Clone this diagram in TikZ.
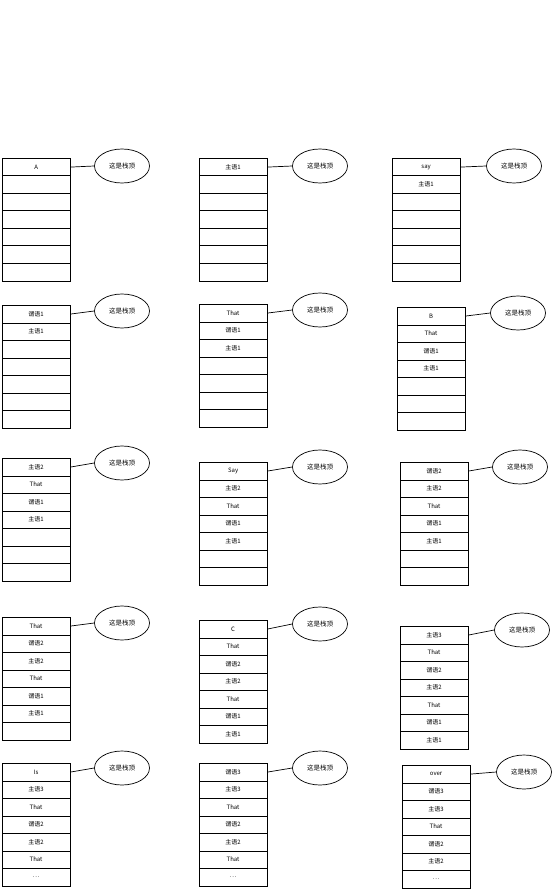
\documentclass[tikz,border=0pt]{standalone}
\usepackage{fontspec}
\newfontfamily\cjk{Noto Sans CJK SC}
\usetikzlibrary{shapes.geometric}

% one stack: name, x, y of top left corner, cell texts (top first)
\newcommand{\stackcol}[4]{%
  \foreach \txt [count=\i] in {#4} {
    \node[cell] (#1-\i) at (#2, #3+17.5*\i-17.5) {\txt};
  }
}
% the label of the top of a stack
\newcommand{\stacktop}[3]{%
  \node[toplbl] (#1-top) at (#2, #3) {这是栈顶};
  \draw[link] (#1-1.east) -- (#1-top.west);
}
\newcommand{\moredots}{.\,.\,.}

\begin{document}
\begin{tikzpicture}[x=1pt, y=-1pt, font=\cjk]
    \tikzset{
      cell/.style={draw, line width=0.7pt, anchor=north west, minimum width=67.5pt,
                   minimum height=17.5pt, inner sep=0pt, font=\cjk\fontsize{6}{6}\selectfont},
      toplbl/.style={draw, ellipse, line width=0.7pt, minimum width=55pt, minimum height=34pt,
                     inner sep=0pt, font=\cjk\fontsize{6.5}{6.5}\selectfont},
      link/.style={line width=0.7pt},
    }
    \useasboundingbox (0,0) rectangle (553,890);

    % row 1
    \stackcol{r1a}{2}{158}{A,{},{},{},{},{},{}}
    \stacktop{r1a}{122}{166}
    \stackcol{r1b}{199}{158}{主语1,{},{},{},{},{},{}}
    \stacktop{r1b}{320}{166}
    \stackcol{r1c}{392}{158}{say,主语1,{},{},{},{},{}}
    \stacktop{r1c}{514}{166}

    % row 2
    \stackcol{r2a}{2}{305}{谓语1,主语1,{},{},{},{},{}}
    \stacktop{r2a}{122}{311}
    \stackcol{r2b}{199}{304}{That,谓语1,主语1,{},{},{},{}}
    \stacktop{r2b}{320}{310}
    \stackcol{r2c}{397}{307}{B,That,谓语1,主语1,{},{},{}}
    \stacktop{r2c}{518}{313}

    % row 3
    \stackcol{r3a}{2}{458}{主语2,That,谓语1,主语1,{},{},{}}
    \stacktop{r3a}{122}{463}
    \stackcol{r3b}{199}{462}{Say,主语2,That,谓语1,主语1,{},{}}
    \stacktop{r3b}{320}{467}
    \stackcol{r3c}{400}{462}{谓语2,主语2,That,谓语1,主语1,{},{}}
    \stacktop{r3c}{520}{467}

    % row 4
    \stackcol{r4a}{2}{617}{That,谓语2,主语2,That,谓语1,主语1,{}}
    \stacktop{r4a}{122}{623}
    \stackcol{r4b}{199}{620}{C,That,谓语2,主语2,That,谓语1,主语1}
    \stacktop{r4b}{320}{624}
    \stackcol{r4c}{400}{626}{主语3,That,谓语2,主语2,That,谓语1,主语1}
    \stacktop{r4c}{522}{630}

    % row 5
    \stackcol{r5a}{2}{763}{Is,主语3,That,谓语2,主语2,That,\moredots}
    \stacktop{r5a}{122}{768}
    \stackcol{r5b}{199}{763}{谓语3,主语3,That,谓语2,主语2,That,\moredots}
    \stacktop{r5b}{320}{768}
    \stackcol{r5c}{402}{765}{over,谓语3,主语3,That,谓语2,主语2,\moredots}
    \stacktop{r5c}{524}{772}
\end{tikzpicture}
\end{document}
